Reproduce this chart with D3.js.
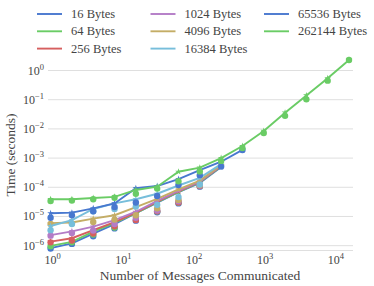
<!DOCTYPE html>
<html>
<head>
  <meta charset="UTF-8">
  <script src="https://d3js.org/d3.v7.min.js"></script>
  <style>
    body { margin: 0; background: #fff; }
    svg text { font-family: "Liberation Serif", "DejaVu Serif", serif; }
  </style>
</head>
<body>
  <svg width="374" height="286"></svg>
  <script>
    // message counts (powers of two)
    const messages = [1, 2, 4, 8, 16, 32, 64, 128, 256, 512, 1024, 2048, 4096, 8192, 16384];

    const seriesNames = ["16 Bytes", "64 Bytes", "256 Bytes", "1024 Bytes",
                         "4096 Bytes", "16384 Bytes", "65536 Bytes", "262144 Bytes"];
    const colors = ["#4878CF", "#6ACC65", "#D65F5F", "#B47CC7",
                    "#C4AD66", "#77BEDB", "#4878CF", "#6ACC65"];

    // line (model) values, one per message count
    const line16     = [8.2e-7, 1.2e-6, 2.6e-6, 5.5e-6, 1.3e-5, 3.0e-5, 6.8e-5, 1.4e-4, 5.0e-4];
    const line64     = [9.8e-7, 1.35e-6, 3.0e-6, 6.0e-6, 1.3e-5, 3.1e-5, 7.0e-5, 1.5e-4, 5.2e-4];
    const line256    = [1.38e-6, 1.8e-6, 3.4e-6, 6.4e-6, 1.35e-5, 3.2e-5, 7.3e-5, 1.55e-4, 5.4e-4];
    const line1024   = [2.3e-6, 3.1e-6, 4.5e-6, 7.5e-6, 1.45e-5, 3.4e-5, 7.6e-5, 1.6e-4, 5.6e-4];
    const line4096   = [5.9e-6, 6.2e-6, 8.4e-6, 1.1e-5, 2.1e-5, 4.0e-5, 8.5e-5, 1.7e-4, 5.8e-4];
    const line16384  = [4.7e-6, 7.5e-6, 1.8e-5, 2.8e-5, 3.9e-5, 6.0e-5, 1.15e-4, 2.1e-4, 6.2e-4];
    const line65536  = [1.29e-5, 1.35e-5, 1.9e-5, 2.8e-5, 9.3e-5, 1.1e-4, 1.9e-4, 3.9e-4, 7.5e-4, 1.9e-3];
    const line262144 = [3.9e-5, 3.9e-5, 4.3e-5, 4.7e-5, 8.1e-5, 1.05e-4, 3.4e-4, 4.7e-4, 1.0e-3,
                        2.6e-3, 8.5e-3, 3.6e-2, 0.14, 0.54, 2.3];

    // measured values (dots)
    const dots16     = [8.0e-7, 1.15e-6, 2.1e-6, 3.9e-6, 7.2e-6, 1.4e-5, 2.8e-5, 1.05e-4];
    const dots64     = [9.5e-7, 1.3e-6, 2.4e-6, 4.2e-6, 1.2e-5, 1.5e-5, 3.0e-5, 1.1e-4];
    const dots256    = [1.3e-6, 1.5e-6, 2.6e-6, 4.6e-6, 7.5e-6, 1.5e-5, 3.0e-5, 1.1e-4];
    const dots1024   = [2.2e-6, 2.7e-6, 3.3e-6, 5.5e-6, 9.0e-6, 1.6e-5, 3.3e-5, 1.15e-4];
    const dots4096   = [5.5e-6, 5.8e-6, 6.5e-6, 7.8e-6, 1.1e-5, 1.9e-5, 3.7e-5, 1.2e-4];
    const dots16384  = [3.4e-6, 5.5e-6, 1.5e-5, 1.8e-5, 2.2e-5, 2.5e-5, 4.6e-5, 1.25e-4];
    const dots65536  = [9.0e-6, 1.1e-5, 1.5e-5, 2.1e-5, 3.0e-5, 5.0e-5, 1.2e-4, 2.6e-4, 5.1e-4, 1.9e-3];
    const dots262144 = [3.4e-5, 3.5e-5, 3.9e-5, 4.4e-5, 6.0e-5, 9.0e-5, 1.6e-4, 3.5e-4, 8.0e-4,
                        2.2e-3, 7.2e-3, 2.8e-2, 0.103, 0.45, 2.3];

    const lineData = [line16, line64, line256, line1024, line4096, line16384, line65536, line262144];
    const dotData  = [dots16, dots64, dots256, dots1024, dots4096, dots16384, dots65536, dots262144];

    const xTicks = [1, 10, 100, 1000, 10000];
    const yTicks = [1e-6, 1e-5, 1e-4, 1e-3, 1e-2, 1e-1, 1];

    const svg = d3.select("svg");
    const pLeft = 48, pRight = 353, pTop = 55, pBottom = 250;

    const x = d3.scaleLog().domain([0.919, 18660]).range([pLeft, pRight]);
    const y = d3.scaleLog().domain([7.1e-7, 3.4]).range([pBottom, pTop]);

    function tickLabel(sel, v) {
      const e = Math.round(Math.log10(v));
      sel.append("tspan").text("10");
      sel.append("tspan").attr("dy", -5).attr("font-size", 8.5)
        .text(String(e).replace("-", "\u2212"));
    }

    // grid
    svg.append("g").selectAll("line").data(yTicks).enter().append("line")
      .attr("x1", pLeft).attr("x2", pRight)
      .attr("y1", d => y(d)).attr("y2", d => y(d))
      .attr("stroke", "#dfdfdf").attr("stroke-width", 1);
    svg.append("line")
      .attr("x1", pLeft).attr("x2", pRight).attr("y1", pBottom + 0.5).attr("y2", pBottom + 0.5)
      .attr("stroke", "#dfdfdf");

    // y tick labels
    svg.append("g").selectAll("text").data(yTicks).enter().append("text")
      .attr("x", 44).attr("y", d => y(d) + 4)
      .attr("text-anchor", "end").attr("font-size", 12).attr("fill", "#444")
      .each(function (d) { tickLabel(d3.select(this), d); });

    // x tick labels
    svg.append("g").selectAll("text").data(xTicks).enter().append("text")
      .attr("x", d => x(d) + 2).attr("y", 264)
      .attr("text-anchor", "middle").attr("font-size", 12).attr("fill", "#444")
      .each(function (d) { tickLabel(d3.select(this), d); });

    svg.append("text")
      .attr("x", 200).attr("y", 280)
      .attr("text-anchor", "middle").attr("font-size", 13.5).attr("fill", "#444")
      .text("Number of Messages Communicated");

    svg.append("text")
      .attr("transform", "translate(15,155) rotate(-90)")
      .attr("text-anchor", "middle").attr("font-size", 13.5).attr("fill", "#444")
      .text("Time (seconds)");

    const line = d3.line().x(d => x(d[0])).y(d => y(d[1]));

    lineData.forEach((vals, i) => {
      const pts = vals.map((v, k) => [messages[k], v]);
      const g = svg.append("g");
      const dp = dotData[i].map((v, k) => [messages[k], v]);
      g.selectAll("circle").data(dp).enter().append("circle")
        .attr("cx", d => x(d[0])).attr("cy", d => y(d[1]))
        .attr("r", 3.2).attr("fill", colors[i]);
      g.append("path").datum(pts)
        .attr("d", line).attr("fill", "none")
        .attr("stroke", colors[i]).attr("stroke-width", 1.9);
      g.selectAll("path.star").data(pts).enter().append("path")
        .attr("class", "star")
        .attr("transform", d => `translate(${x(d[0])},${y(d[1])})`)
        .attr("d", d3.symbol().type(d3.symbolStar).size(14))
        .attr("fill", colors[i]);
    });

    // legend
    const legend = svg.append("g");
    seriesNames.forEach((name, i) => {
      const col = Math.floor(i / 3), row = i % 3;
      const lx = 37 + col * 113.5, ly = 14 + row * 17.3;
      legend.append("line")
        .attr("x1", lx).attr("x2", lx + 25).attr("y1", ly).attr("y2", ly)
        .attr("stroke", colors[i]).attr("stroke-width", 1.9);
      legend.append("text")
        .attr("x", lx + 34).attr("y", ly + 4)
        .attr("font-size", 12.5).attr("fill", "#444")
        .text(name);
    });
  </script>
</body>
</html>
